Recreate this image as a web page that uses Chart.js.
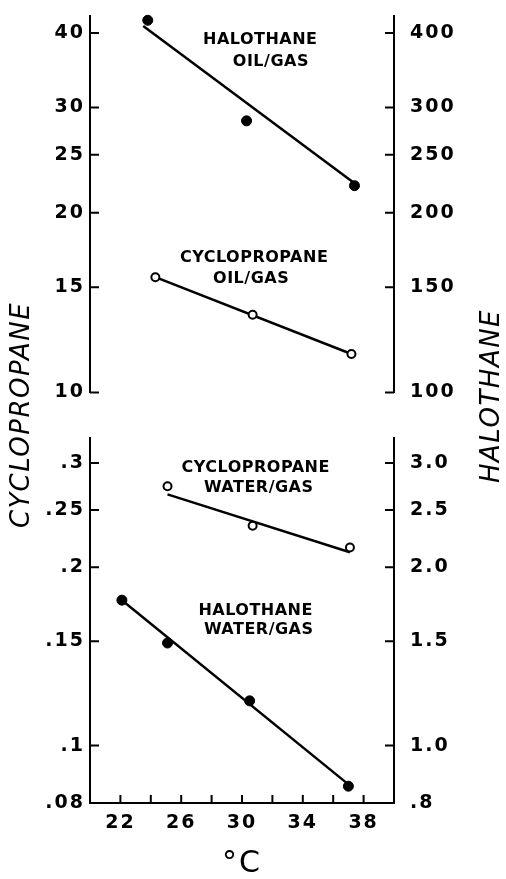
<!DOCTYPE html>
<html>
<head>
<meta charset="utf-8">
<script src="https://cdn.jsdelivr.net/npm/chart.js@4/dist/chart.umd.min.js"></script>
<style>
  html, body { margin: 0; padding: 0; background: #fff; }
  canvas { display: block; }
</style>
</head>
<body>
<canvas id="partitionChart" width="506" height="879"></canvas>
<script>
// measured points (temperature in °C, partition coefficient)
const halOilTemp = [23.8, 30.3, 37.4];
const halOilVal = [420, 285, 222];
const cycOilTemp = [24.3, 30.7, 37.2];
const cycOilVal = [15.6, 13.5, 11.6];
const cycWaterTemp = [25.1, 30.7, 37.1];
const cycWaterVal = [0.274, 0.235, 0.216];
const halWaterTemp = [22.1, 25.1, 30.5, 37.0];
const halWaterVal = [1.76, 1.49, 1.19, 0.854];

// fitted lines (end points)
const halOilFitTemp = [23.5, 37.4];
const halOilFit = [411, 224];
const cycOilFitTemp = [24.3, 37.2];
const cycOilFit = [15.6, 11.6];
const cycWaterFitTemp = [25.1, 37.1];
const cycWaterFit = [0.2655, 0.212];
const halWaterFitTemp = [22.1, 37.0];
const halWaterFit = [1.76, 0.86];

// ticks
const xTicks = [22, 24, 26, 28, 30, 32, 34, 36, 38];
const xLabels = ['22', '', '26', '', '30', '', '34', '', '38'];
const cycOilTicks = [10, 15, 20, 25, 30, 40];
const cycOilLabels = ['10', '15', '20', '25', '30', '40'];
const halOilTicks = [100, 150, 200, 250, 300, 400];
const halOilLabels = ['100', '150', '200', '250', '300', '400'];
const cycWaterTicks = [0.08, 0.1, 0.15, 0.2, 0.25, 0.3];
const cycWaterLabels = ['.08', '.1', '.15', '.2', '.25', '.3'];
const halWaterTicks = [0.8, 1.0, 1.5, 2.0, 2.5, 3.0];
const halWaterLabels = ['.8', '1.0', '1.5', '2.0', '2.5', '3.0'];

const pts = (xs, ys) => xs.map((x, i) => ({ x: x, y: ys[i] }));

Chart.defaults.font.family = '"DejaVu Sans", sans-serif';
Chart.defaults.color = '#000';

// text labels inside the panels, placed in data units (x, left axis of panel)
const notes = [
  { text: 'HALOTHANE', x: 31.2, y: 38.9, axis: 'yTopL' },
  { text: 'OIL/GAS', x: 31.9, y: 35.8, axis: 'yTopL' },
  { text: 'CYCLOPROPANE', x: 30.8, y: 16.8, axis: 'yTopL' },
  { text: 'OIL/GAS', x: 30.6, y: 15.5, axis: 'yTopL' },
  { text: 'CYCLOPROPANE', x: 30.9, y: 0.294, axis: 'yBotL' },
  { text: 'WATER/GAS', x: 31.1, y: 0.272, axis: 'yBotL' },
  { text: 'HALOTHANE', x: 30.9, y: 0.169, axis: 'yBotL' },
  { text: 'WATER/GAS', x: 31.1, y: 0.157, axis: 'yBotL' }
];

// wide lettering like the original
const spacing = {
  id: 'spacing',
  beforeUpdate(chart) { chart.ctx.letterSpacing = '2px'; },
  beforeDraw(chart) { chart.ctx.letterSpacing = '2px'; }
};

// tick marks point into the plot
const inwardTicks = {
  id: 'inwardTicks',
  afterDraw(chart) {
    const ctx = chart.ctx;
    ctx.save();
    ctx.strokeStyle = '#000';
    ctx.lineWidth = 2;
    ctx.beginPath();
    Object.values(chart.scales).forEach(s => {
      if (!s.options.display || !s.options.ticks.display) return;
      s.ticks.forEach(t => {
        const p = s.getPixelForValue(t.value);
        if (s.isHorizontal()) {
          ctx.moveTo(p, s.top);
          ctx.lineTo(p, s.top - 8);
        } else if (s.position === 'left') {
          ctx.moveTo(s.right, p);
          ctx.lineTo(s.right + 9, p);
        } else {
          ctx.moveTo(s.left, p);
          ctx.lineTo(s.left - 9, p);
        }
      });
    });
    ctx.stroke();
    ctx.restore();
  }
};

const labels = {
  id: 'labels',
  afterDraw(chart) {
    const { ctx, scales } = chart;
    ctx.save();
    ctx.fillStyle = '#000';
    ctx.textAlign = 'center';
    ctx.textBaseline = 'middle';
    ctx.font = 'bold 16px "DejaVu Sans"';
    ctx.letterSpacing = '0.5px';
    notes.forEach(n => {
      ctx.fillText(n.text, scales.x.getPixelForValue(n.x), scales[n.axis].getPixelForValue(n.y));
    });
    // axis titles, both reading upward
    ctx.font = 'italic 26px "DejaVu Sans"';
    ctx.letterSpacing = '1.5px';
    ctx.save();
    ctx.translate(22, 415);
    ctx.rotate(-Math.PI / 2);
    ctx.fillText('CYCLOPROPANE', 0, 0);
    ctx.restore();
    ctx.save();
    ctx.translate(492, 396);
    ctx.rotate(-Math.PI / 2);
    ctx.fillText('HALOTHANE', 0, 0);
    ctx.restore();
    ctx.restore();
  }
};

const tickFont = { size: 19, weight: 'bold', lineHeight: 1 };

function yAxis(pos, weight, stackWeight, min, max, ticks, tickLabels) {
  return {
    type: 'logarithmic',
    position: pos,
    stack: pos,
    stackWeight: stackWeight,
    weight: weight,
    min: min,
    max: max,
    afterBuildTicks: s => { s.ticks = ticks.map(v => ({ value: v })); },
    afterFit: s => {
      s.width = pos === 'left' ? 90 : 112;
      s.paddingTop = 0;
      s.paddingBottom = 0;
    },
    border: { display: true, color: '#000', width: 2 },
    grid: { display: false, drawTicks: false },
    ticks: {
      autoSkip: false,
      font: tickFont,
      padding: pos === 'left' ? 5 : 16,
      callback: (v, i) => tickLabels[i]
    }
  };
}

function gapAxis(pos, weight) {
  return {
    type: 'linear',
    position: pos,
    stack: pos,
    stackWeight: 46,
    weight: weight,
    afterFit: s => {
      s.width = pos === 'left' ? 90 : 112;
      s.paddingTop = 0;
      s.paddingBottom = 0;
    },
    border: { display: false },
    grid: { display: false },
    ticks: { display: false }
  };
}

const filled = { pointRadius: 5, pointBackgroundColor: '#000', pointBorderColor: '#000', pointBorderWidth: 1, showLine: false };
const open = { pointRadius: 4, pointBackgroundColor: '#fff', pointBorderColor: '#000', pointBorderWidth: 2, showLine: false };
const fit = { showLine: true, pointRadius: 0, borderColor: '#000', borderWidth: 2.5 };

new Chart(document.getElementById('partitionChart'), {
  type: 'scatter',
  data: {
    datasets: [
      Object.assign({ label: 'Halothane oil/gas', data: pts(halOilTemp, halOilVal), yAxisID: 'yTopR' }, filled),
      Object.assign({ label: 'Halothane oil/gas fit', data: pts(halOilFitTemp, halOilFit), yAxisID: 'yTopR' }, fit),
      Object.assign({ label: 'Cyclopropane oil/gas', data: pts(cycOilTemp, cycOilVal), yAxisID: 'yTopL' }, open),
      Object.assign({ label: 'Cyclopropane oil/gas fit', data: pts(cycOilFitTemp, cycOilFit), yAxisID: 'yTopL' }, fit),
      Object.assign({ label: 'Cyclopropane water/gas', data: pts(cycWaterTemp, cycWaterVal), yAxisID: 'yBotL' }, open),
      Object.assign({ label: 'Cyclopropane water/gas fit', data: pts(cycWaterFitTemp, cycWaterFit), yAxisID: 'yBotL' }, fit),
      Object.assign({ label: 'Halothane water/gas', data: pts(halWaterTemp, halWaterVal), yAxisID: 'yBotR' }, filled),
      Object.assign({ label: 'Halothane water/gas fit', data: pts(halWaterFitTemp, halWaterFit), yAxisID: 'yBotR' }, fit)
    ]
  },
  options: {
    responsive: false,
    animation: false,
    clip: false,
    layout: { padding: { top: 16, left: 0, right: 0, bottom: 0 } },
    plugins: { legend: { display: false }, tooltip: { enabled: false } },
    scales: {
      x: {
        type: 'linear',
        position: 'bottom',
        min: 20,
        max: 40,
        afterBuildTicks: s => { s.ticks = xTicks.map(v => ({ value: v })); },
        afterFit: s => { s.height = 76; s.paddingLeft = 0; s.paddingRight = 0; },
        border: { display: true, color: '#000', width: 2 },
        grid: { display: false, drawTicks: false },
        ticks: { autoSkip: false, maxRotation: 0, font: tickFont, padding: 10.5, callback: (v, i) => xLabels[i] },
        title: { display: true, text: '°C', font: { size: 30, lineHeight: 1 }, padding: 0 }
      },
      yTopL: yAxis('left', 3, 377, 10, 42.7, cycOilTicks, cycOilLabels),
      yGapL: gapAxis('left', 2),
      yBotL: yAxis('left', 1, 365, 0.08, 0.33, cycWaterTicks, cycWaterLabels),
      yTopR: yAxis('right', 1, 377, 100, 427, halOilTicks, halOilLabels),
      yGapR: gapAxis('right', 2),
      yBotR: yAxis('right', 3, 365, 0.8, 3.3, halWaterTicks, halWaterLabels)
    }
  },
  plugins: [spacing, inwardTicks, labels]
});
</script>
</body>
</html>
